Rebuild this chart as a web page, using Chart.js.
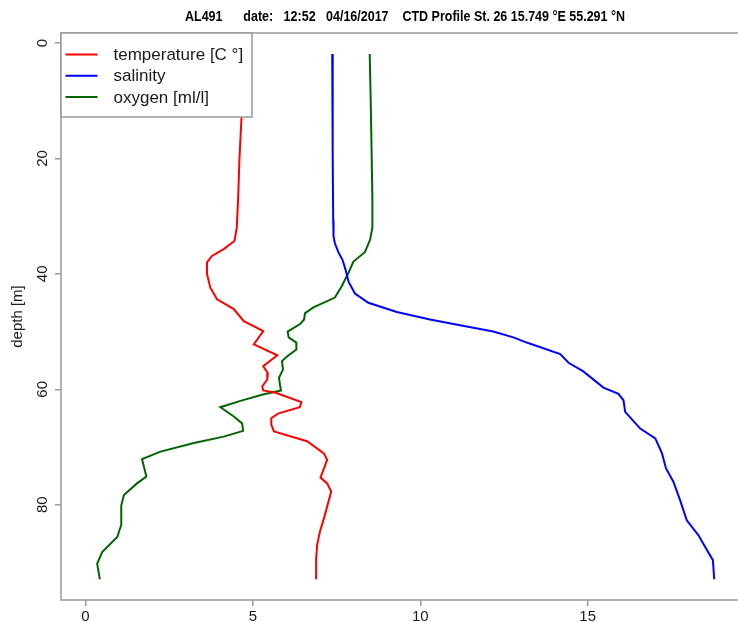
<!DOCTYPE html>
<html>
<head>
<meta charset="utf-8">
<script src="https://cdn.jsdelivr.net/npm/chart.js@4.4.0/dist/chart.umd.min.js"></script>
<style>
    html, body { margin: 0; padding: 0; background: #fff; overflow: hidden; }
</style>
</head>
<body>
<canvas id="myChart" width="738" height="622"></canvas>
<script>
// profile data: depth [m] and value
const tempDepth = [1.9, 13, 20, 27, 32, 34.3, 35.7, 36.9, 38, 40, 42.4, 44.4, 46.1, 48.2, 49.9, 52.2, 54.1, 56, 57.2, 58.3, 59.5, 60.2, 60.6, 62.2, 63.1, 64.2, 65, 66.1, 67.3, 69, 71.1, 72.2, 75.3, 76.3, 77.7, 80.3, 82.4, 84.7, 87, 89.3, 92.9]
const tempValues = [4.70, 4.66, 4.60, 4.56, 4.52, 4.45, 4.13, 3.78, 3.63, 3.63, 3.73, 3.93, 4.43, 4.73, 5.31, 5.03, 5.73, 5.31, 5.45, 5.43, 5.28, 5.31, 5.68, 6.45, 6.40, 5.75, 5.55, 5.55, 5.63, 6.62, 7.12, 7.22, 7.02, 7.22, 7.34, 7.22, 7.12, 7.00, 6.92, 6.89, 6.89]

const salDepth = [1.9, 10, 20, 30.7, 33.5, 34.7, 36.2, 37.6, 39.3, 41.4, 43.4, 45, 46.6, 47.9, 48.9, 50, 51, 51.9, 53.9, 55.4, 56.9, 59.7, 60.8, 61.9, 63.9, 66.8, 68.5, 71.1, 73.7, 76, 79.2, 82.7, 85.3, 87.3, 89.6, 92.9]
const salValues = [7.37, 7.38, 7.39, 7.40, 7.41, 7.45, 7.55, 7.68, 7.77, 7.86, 8.05, 8.45, 9.30, 10.29, 11.19, 12.18, 12.78, 13.18, 14.18, 14.43, 14.87, 15.47, 15.92, 16.07, 16.12, 16.57, 17.02, 17.22, 17.34, 17.56, 17.76, 17.96, 18.31, 18.51, 18.74, 18.78]

const oxyDepth = [1.9, 10, 20, 27, 32, 34.1, 36.2, 37.9, 39.9, 42.2, 44.1, 45.8, 46.8, 47.9, 48.7, 50, 51, 51.9, 53.1, 54.3, 55.1, 56.6, 58, 59.2, 60.2, 60.9, 62, 63.1, 64.7, 65.9, 67.2, 68.2, 69.3, 70.8, 72.1, 75.1, 76.3, 78.3, 80.1, 83.5, 85.6, 88.2, 90.2, 92.9]
const oxyValues = [8.49, 8.52, 8.55, 8.57, 8.57, 8.50, 8.35, 8.00, 7.85, 7.65, 7.45, 6.81, 6.56, 6.53, 6.41, 6.04, 6.07, 6.30, 6.30, 6.02, 5.87, 5.90, 5.78, 5.81, 5.84, 5.30, 4.63, 4.03, 4.43, 4.68, 4.71, 4.13, 3.24, 2.24, 1.69, 1.82, 1.54, 1.15, 1.07, 1.07, 0.95, 0.50, 0.35, 0.43]

const xTicks = [0, 5, 10, 15]
const yTicks = [0, 20, 40, 60, 80]
const seriesNames = ['temperature [C °]', 'salinity', 'oxygen [ml/l]']
const seriesColors = ['#ff0000', '#0000ff', '#006400']

const titleText = 'AL491      date:   12:52   04/16/2017    CTD Profile St. 26 15.749 °E 55.291 °N'

const FONT = '"Liberation Sans", Arial, Helvetica, sans-serif'
const AXIS = '#999999'
const TEXT = '#1a1a1a'

function toPoints(depth, values) {
    return depth.map((d, i) => ({x: values[i], y: d}))
}

// box, legend, title and rotated y labels, R style
const rPlot = {
    id: 'rPlot',
    afterDatasetsDraw(chart) {
        const ctx = chart.ctx
        const a = chart.chartArea
        ctx.save()
        ctx.strokeStyle = AXIS
        ctx.lineWidth = 1.5
        ctx.beginPath()
        ctx.moveTo(a.right + 5, a.top)
        ctx.lineTo(a.left, a.top)
        ctx.lineTo(a.left, a.bottom)
        ctx.lineTo(a.right + 5, a.bottom)
        ctx.stroke()

        // legend box over the data, top left corner
        const lx = a.left, ly = a.top, lw = 191, lh = 84
        ctx.fillStyle = '#ffffff'
        ctx.fillRect(lx, ly, lw, lh)
        ctx.strokeRect(lx, ly, lw, lh)
        ctx.font = '17px ' + FONT
        ctx.textBaseline = 'middle'
        ctx.textAlign = 'left'
        seriesNames.forEach((name, i) => {
            const y = ly + 21.5 + i * 21.3
            ctx.strokeStyle = seriesColors[i]
            ctx.lineWidth = 2
            ctx.beginPath()
            ctx.moveTo(lx + 4.5, y)
            ctx.lineTo(lx + 36.5, y)
            ctx.stroke()
            ctx.fillStyle = TEXT
            ctx.fillText(name, lx + 52.5, y + 1)
        })
        ctx.restore()
    },
    afterDraw(chart) {
        const ctx = chart.ctx
        const yScale = chart.scales.y
        ctx.save()
        ctx.fillStyle = TEXT
        ctx.font = '15px ' + FONT
        ctx.textAlign = 'center'
        ctx.textBaseline = 'alphabetic'
        yTicks.forEach(v => {
            const py = yScale.getPixelForValue(v)
            ctx.save()
            ctx.translate(47, py)
            ctx.rotate(-Math.PI / 2)
            ctx.fillText(String(v), 0, 0)
            ctx.restore()
        })

        // condensed bold title, squeezed to the reference width
        ctx.font = 'bold 15px ' + FONT
        ctx.fillStyle = '#000'
        const w = ctx.measureText(titleText).width
        ctx.translate(405, 20.5)
        ctx.scale(440 / w, 1)
        ctx.fillText(titleText, 0, 0)
        ctx.restore()
    }
}

const chart = new Chart(document.getElementById('myChart').getContext('2d'), {
    type: 'scatter',
    data: {
        datasets: [
            {label: seriesNames[0], data: toPoints(tempDepth, tempValues), borderColor: seriesColors[0]},
            {label: seriesNames[1], data: toPoints(salDepth, salValues), borderColor: seriesColors[1]},
            {label: seriesNames[2], data: toPoints(oxyDepth, oxyValues), borderColor: seriesColors[2]},
        ]
    },
    options: {
        responsive: false,
        animation: false,
        events: [],
        showLine: true,
        layout: {padding: {top: 33, right: 0, left: 0, bottom: 0}},
        elements: {
            line: {borderWidth: 2, tension: 0, fill: false},
            point: {radius: 0}
        },
        plugins: {
            legend: {display: false},
            title: {display: false},
            tooltip: {enabled: false}
        },
        scales: {
            x: {
                type: 'linear',
                min: -0.73,
                max: 19.49,
                afterBuildTicks: s => { s.ticks = xTicks.map(v => ({value: v})) },
                afterFit: s => { s.height = 22 },
                grid: {display: true, drawOnChartArea: false, drawTicks: true, tickLength: 6, color: AXIS, lineWidth: 1.5},
                border: {display: false},
                ticks: {color: TEXT, font: {size: 15, family: FONT}, padding: 2, maxRotation: 0}
            },
            y: {
                type: 'linear',
                reverse: true,
                min: -1.73,
                max: 96.5,
                afterBuildTicks: s => { s.ticks = yTicks.map(v => ({value: v})) },
                afterFit: s => { s.width = 61 },
                grid: {display: true, drawOnChartArea: false, drawTicks: true, tickLength: 6, color: AXIS, lineWidth: 1.5},
                border: {display: false},
                ticks: {display: false},
                title: {display: true, text: 'depth [m]', color: TEXT, font: {size: 15, family: FONT}, padding: {top: 9, bottom: 0}}
            }
        }
    },
    plugins: [rPlot]
})
</script>
</body>
</html>
